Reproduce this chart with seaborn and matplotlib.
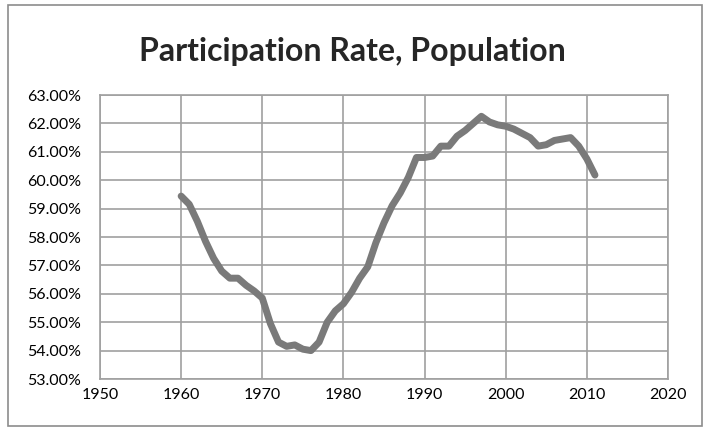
import numpy as np
import pandas as pd
import matplotlib
matplotlib.use("Agg")
import matplotlib.pyplot as plt
import seaborn as sns
from matplotlib.ticker import FuncFormatter
from matplotlib.patches import Rectangle

# annual values (percent)
years = list(range(1960, 2012))
rate = [59.44, 59.15, 58.55, 57.85, 57.25, 56.8, 56.55, 56.55, 56.3, 56.1,
        55.85, 54.95, 54.3, 54.15, 54.2, 54.05, 54.0, 54.3, 55.0, 55.4,
        55.65, 56.05, 56.55, 56.95, 57.8, 58.5, 59.1, 59.55, 60.1, 60.8,
        60.8, 60.85, 61.2, 61.2, 61.55, 61.75, 62.0, 62.25, 62.05, 61.95,
        61.9, 61.8, 61.65, 61.5, 61.2, 61.25, 61.4, 61.45, 61.5, 61.2,
        60.75, 60.18]

xticks = [1950, 1960, 1970, 1980, 1990, 2000, 2010, 2020]
yticks = [53, 54, 55, 56, 57, 58, 59, 60, 61, 62, 63]

df = pd.DataFrame({"year": years, "rate": rate})

sns.set_style("white")
plt.rcParams["font.family"] = ["Lato", "DejaVu Sans"]

grid_c = "#a0a0a0"
fig = plt.figure(figsize=(7.04, 4.28), dpi=100)
ax = fig.add_axes([100 / 704, 1 - 379 / 428, 568 / 704, 284 / 428])

sns.lineplot(x="year", y="rate", data=df, ax=ax, color="#7a7a7a",
             linewidth=5, solid_capstyle="round", solid_joinstyle="round")

ax.set_xlim(1950, 2020)
ax.set_ylim(53, 63)
ax.set_xticks(xticks)
ax.set_yticks(yticks)
ax.yaxis.set_major_formatter(FuncFormatter(lambda v, p: "%.2f%%" % v))
ax.grid(True, color=grid_c, linewidth=1.2)
for s in ax.spines.values():
    s.set_color(grid_c)
    s.set_linewidth(1.2)
ax.tick_params(axis="both", length=3.5, width=1.2, color=grid_c,
               labelsize=11.5, labelcolor="black", direction="out")
ax.tick_params(axis="x", pad=3)
ax.tick_params(axis="y", pad=10)
ax.set_xlabel("")
ax.set_ylabel("")

fig.text(0.5, 1 - 51 / 428, "Participation Rate, Population", ha="center",
         va="center", fontsize=23, fontweight="bold")

# outer chart border
fig.patches.append(Rectangle((8 / 704, 2 / 428), 694 / 704, 421 / 428,
                             transform=fig.transFigure, fill=False,
                             edgecolor="#8c8c8c", linewidth=1.2))

plt.savefig("out.png", dpi=100)
